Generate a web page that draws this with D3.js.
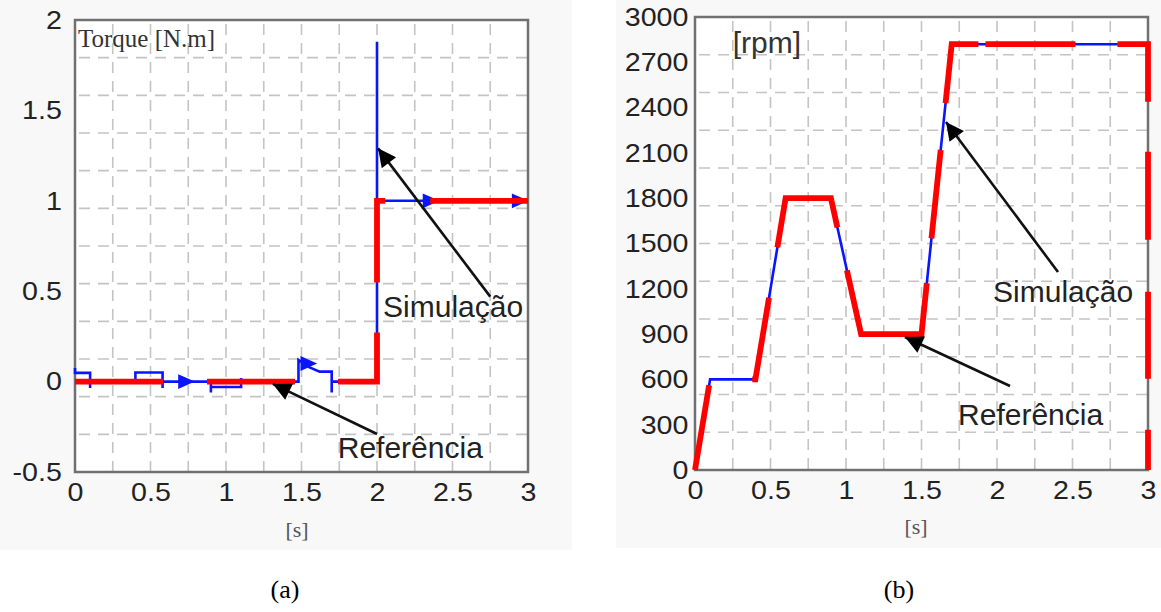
<!DOCTYPE html>
<html><head><meta charset="utf-8">
<script src="https://cdn.jsdelivr.net/npm/d3@7"></script>
<style>body{margin:0;background:#fff} svg{display:block}</style></head>
<body>
<svg id="c" width="1161" height="612"></svg>
<script>
// ---------- data ----------
const timeTicks = [0, 0.5, 1, 1.5, 2, 2.5, 3];
const torqueTicks = [-0.5, 0, 0.5, 1, 1.5, 2];
const speedTicks = [0, 300, 600, 900, 1200, 1500, 1800, 2100, 2400, 2700, 3000];

// (a) torque [N.m] vs time [s]
const torqueRef = [[0, 0], [2, 0], [2, 1], [3, 1]];
const torqueSim = [
  [0, 0.075], [0, 0.048], [0.1, 0.048], [0.1, -0.035], [0.1, 0],
  [0.4, 0], [0.4, 0.05], [0.58, 0.05], [0.58, -0.035], [0.58, 0],
  [0.9, 0], [0.9, -0.06], [0.9, -0.03], [1.1, -0.03], [1.1, 0.02], [1.1, 0],
  [1.48, 0], [1.48, 0.12], [1.55, 0.08], [1.62, 0.055], [1.7, 0.055], [1.7, -0.06], [1.7, 0],
  [2, 0], [2, 1.88], [2, 1.0], [3, 1.0]
];
const torqueMarkers = [[0.72, 0], [1.53, 0.1], [2.34, 1.0], [2.93, 1.0]];

// (b) speed [rpm] vs time [s]
const speedRef = [[0, 0], [0.1, 600], [0.4, 600], [0.6, 1800], [0.9, 1800], [1.1, 900],
  [1.5, 900], [1.7, 2820], [3, 2820], [3, 0]];
const speedSim = [[0, 0], [0.1, 600], [0.4, 600], [0.6, 1800], [0.9, 1800], [1.1, 900],
  [1.5, 900], [1.7, 2820], [3, 2820]];

// annotations (data coordinates)
const torqueNotes = [
  {text: "Simulação", tx: 2.04, ty: 0.36, from: [2.75, 0.47], to: [2.007, 1.29]},
  {text: "Referência", tx: 1.74, ty: -0.42, from: [2.0, -0.29], to: [1.31, -0.013]}
];
const speedNotes = [
  {text: "Simulação", tx: 1.974, ty: 1113, from: [2.404, 1311], to: [1.662, 2305]},
  {text: "Referência", tx: 1.742, ty: 298, from: [2.086, 556], to: [1.39, 881]}
];

// ---------- drawing ----------
const svg = d3.select("#c");
svg.append("rect").attr("x", 0).attr("y", 0).attr("width", 572).attr("height", 550).attr("fill", "#f8f8f8");
svg.append("rect").attr("x", 616).attr("y", 0).attr("width", 545).attr("height", 548).attr("fill", "#f8f8f8");

const defs = svg.append("defs");
defs.append("marker").attr("id", "ah").attr("viewBox", "0 0 10 10")
  .attr("refX", 10).attr("refY", 5)
  .attr("markerUnits", "userSpaceOnUse").attr("orient", "auto")
  .attr("markerWidth", 27).attr("markerHeight", 18)
  .append("path").attr("d", "M0,0 L10,5 L0,10 Z").attr("fill", "#000");

function chart(cfg) {
  const g = svg.append("g");
  const x = d3.scaleLinear().domain([0, 3]).range([cfg.left, cfg.right]);
  const y = d3.scaleLinear().domain(cfg.yDomain).range([cfg.bottom, cfg.top]);

  g.append("rect").attr("x", cfg.left).attr("y", cfg.top)
    .attr("width", cfg.right - cfg.left).attr("height", cfg.bottom - cfg.top).attr("fill", "#fff");

  // grid: 12 x 12 divisions
  const xg = d3.range(1, 12).map(i => i * 3 / 12);
  const yg = d3.range(1, 12).map(i => cfg.yDomain[0] + i * (cfg.yDomain[1] - cfg.yDomain[0]) / 12);
  g.selectAll(".vg").data(xg).join("line")
    .attr("x1", d => x(d)).attr("x2", d => x(d)).attr("y1", cfg.top).attr("y2", cfg.bottom)
    .attr("stroke", "#c4c4c4").attr("stroke-width", 1.6).attr("stroke-dasharray", "11,8").attr("stroke-dashoffset", -4);
  g.selectAll(".hg").data(yg).join("line")
    .attr("y1", d => y(d)).attr("y2", d => y(d)).attr("x1", cfg.left).attr("x2", cfg.right)
    .attr("stroke", "#c4c4c4").attr("stroke-width", 1.6).attr("stroke-dasharray", "11,8").attr("stroke-dashoffset", -4);

  // axes
  const fmt = d => String(d);
  const ax = g.append("g").attr("transform", `translate(0,${cfg.bottom})`)
    .call(d3.axisBottom(x).tickValues(timeTicks).tickSize(0).tickPadding(9).tickFormat(fmt));
  const ay = g.append("g").attr("transform", `translate(${cfg.left},0)`)
    .call(d3.axisLeft(y).tickValues(cfg.yTicks).tickSize(0).tickPadding(cfg.yPad).tickFormat(fmt));
  [ax, ay].forEach(a => {
    a.select(".domain").remove();
    a.selectAll("text").attr("font-family", "'Liberation Sans', Arial, sans-serif")
      .attr("font-size", 26).attr("fill", "#222").attr("transform", "scale(1.1,1)");
  });
  ax.selectAll("text").attr("dy", "0.78em");

  // box
  g.append("rect").attr("x", cfg.left).attr("y", cfg.top)
    .attr("width", cfg.right - cfg.left).attr("height", cfg.bottom - cfg.top)
    .attr("fill", "none").attr("stroke", "#707070").attr("stroke-width", 2.5);

  const line = d3.line().x(d => x(d[0])).y(d => y(d[1]));
  g.append("path").datum(cfg.sim).attr("d", line).attr("fill", "none")
    .attr("stroke", "#0a14ff").attr("stroke-width", 2.6).attr("stroke-linejoin", "miter");
  if (cfg.markers) {
    g.selectAll(".mk").data(cfg.markers).join("path")
      .attr("d", d3.symbol().type(d3.symbolTriangle).size(95))
      .attr("transform", d => `translate(${x(d[0])},${y(d[1])}) rotate(90) scale(1,1.3)`)
      .attr("fill", "#0a14ff");
  }
  g.append("path").datum(cfg.ref).attr("d", line).attr("fill", "none")
    .attr("stroke", "#ff0000").attr("stroke-width", 5.8).attr("stroke-linejoin", "miter")
    .attr("stroke-dasharray", cfg.dash);

  // label
  g.append("text").attr("x", x(cfg.lab[0])).attr("y", y(cfg.lab[1])).text(cfg.label)
    .attr("font-family", cfg.labFont).attr("font-size", cfg.labSize).attr("fill", "#333");

  // annotations
  cfg.notes.forEach(n => {
    g.append("line").attr("x1", x(n.from[0])).attr("y1", y(n.from[1]))
      .attr("x2", x(n.to[0])).attr("y2", y(n.to[1]))
      .attr("stroke", "#111").attr("stroke-width", 2.6).attr("marker-end", "url(#ah)");
    g.append("text").attr("x", x(n.tx)).attr("y", y(n.ty)).text(n.text)
      .attr("font-family", "'Liberation Sans', Arial, sans-serif").attr("font-size", 30).attr("fill", "#222");
  });

  // x unit and caption
  g.append("text").attr("x", cfg.sx).attr("y", cfg.sy).text("[s]").attr("text-anchor", "middle")
    .attr("font-family", "'Liberation Serif', 'Times New Roman', serif").attr("font-size", 22).attr("fill", "#555");
  g.append("text").attr("x", cfg.cx).attr("y", 598).text(cfg.caption).attr("text-anchor", "middle")
    .attr("font-family", "'Liberation Serif', 'Times New Roman', serif").attr("font-size", 26).attr("fill", "#000");
}

chart({left: 75, right: 528, top: 20, bottom: 472, yDomain: [-0.5, 2], yTicks: torqueTicks, yPad: 12,
  ref: torqueRef, sim: torqueSim, markers: torqueMarkers,
  dash: "88,44,88,43,88,50,90,45,300",
  label: "Torque [N.m]", lab: [0.02, 1.85], labFont: "'Liberation Serif', 'Times New Roman', serif", labSize: 25,
  notes: torqueNotes, sx: 297, sy: 537, cx: 285, caption: "(a)"});

chart({left: 695, right: 1148, top: 17, bottom: 470, yDomain: [0, 3000], yTicks: speedTicks, yPad: 6,
  ref: speedRef, sim: speedSim, markers: null,
  dash: "86,48,86,51,125,44,177,45,89,47,86,7,90,42,88,50,88,52,87,51,80",
  label: "[rpm]", lab: [0.25, 2760], labFont: "'Liberation Sans', Arial, sans-serif", labSize: 30,
  notes: speedNotes, sx: 916, sy: 534, cx: 899, caption: "(b)"});
</script>
</body></html>
